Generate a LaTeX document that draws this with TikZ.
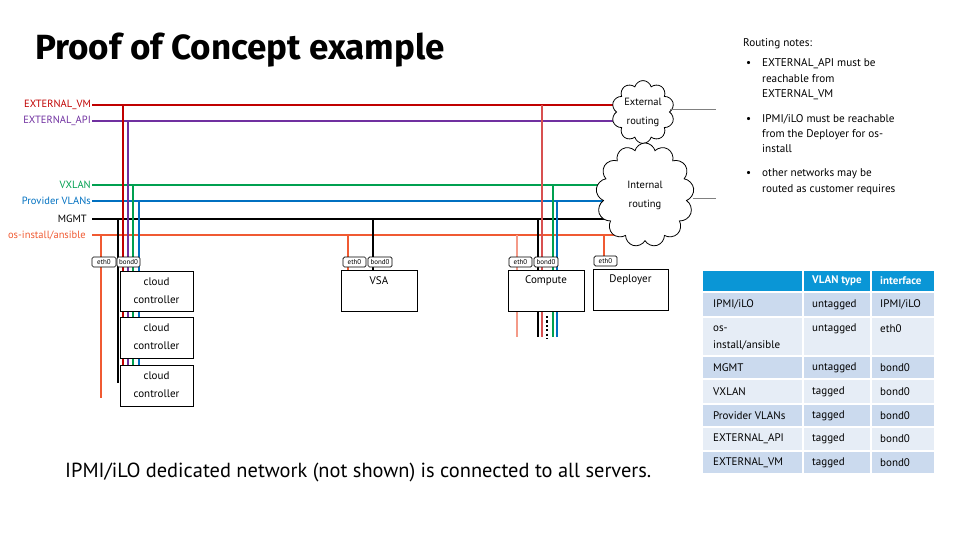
\documentclass[tikz,border=0pt]{standalone}
\usepackage{fontspec}
\setmainfont{PT Sans}
\newfontfamily\titlefont{Fira Sans}
\usetikzlibrary{shapes.symbols}

\definecolor{cExtVM}{HTML}{C00000}
\definecolor{cExtAPI}{HTML}{7030A0}
\definecolor{cVXLAN}{HTML}{00A050}
\definecolor{cProv}{HTML}{0070C0}
\definecolor{cOS}{HTML}{F05A32}
\definecolor{cOSlight}{HTML}{F49A88}
\definecolor{cRedLight}{HTML}{D85050}
\definecolor{cHead}{HTML}{0A96D6}
\definecolor{cRowDark}{HTML}{CBDAEE}
\definecolor{cRowLight}{HTML}{E6EDF6}
\definecolor{cUplink}{HTML}{808080}

\newcommand{\fs}[1]{\fontsize{#1}{#1}\selectfont}

\tikzset{
  netlabel/.style={anchor=east, inner sep=0pt, font=\fs{10.5}},
  bus/.style={line width=1.15pt},
  drop/.style={line width=1.15pt},
  nictag/.style={draw, rounded corners=1.5pt, fill=white, inner sep=0pt,
    minimum height=10pt, font=\fs{7}, line width=0.7pt},
  srvbox/.style={draw, fill=white, inner sep=0pt, line width=1pt,
    minimum width=76pt, minimum height=41pt},
  srvname/.style={anchor=center, inner sep=0pt, font=\fs{11}},
  routecloud/.style={cloud, draw, fill=white, line width=0.8pt, aspect=1,
    inner sep=0pt, align=center},
  noteline/.style={anchor=base west, inner sep=0pt, font=\fs{11.2}},
  celltext/.style={anchor=west, inner sep=0pt, font=\fs{11}},
  headtext/.style={anchor=west, inner sep=0pt, font=\bfseries\fs{11}, text=white},
}

\begin{document}
\begin{tikzpicture}[x=1pt, y=-1pt]
\useasboundingbox (0,0) rectangle (960,540);

% ---------- title ----------
\node[anchor=base west, inner sep=0pt, font=\titlefont\bfseries\fs{35}] (title) at (35,60)
  {Proof of Concept example};

% ---------- network labels and bus start points ----------
\node[netlabel, text=cExtVM]  (lExtVM)  at (91,105) {EXTERNAL\_VM};
\node[netlabel, text=cExtAPI] (lExtAPI) at (91,121) {EXTERNAL\_API};
\node[netlabel, text=cVXLAN]  (lVXLAN)  at (91,185) {VXLAN};
\node[netlabel, text=cProv]   (lProv)   at (91,201) {Provider VLANs};
\node[netlabel]               (lMGMT)   at (87,219) {MGMT};
\node[netlabel, text=cOS]     (lOS)     at (86,235) {os-install/ansible};

\coordinate (bExtVM)  at (92,105);
\coordinate (bExtAPI) at (92,121);
\coordinate (bVXLAN)  at (92,185);
\coordinate (bProv)   at (92,201);
\coordinate (bMGMT)   at (92,219);
\coordinate (bOS)     at (92,235);

% ---------- routing clouds (positions) ----------
\coordinate (extC) at (643,112);
\coordinate (intC) at (645,195);

% ---------- buses ----------
\draw[bus, cExtVM]  (bExtVM)  -- (bExtVM -| extC);
\draw[bus, cExtAPI] (bExtAPI) -- (bExtAPI -| extC);
\draw[bus, cVXLAN]  (bVXLAN)  -- (bVXLAN -| intC);
\draw[bus, cProv]   (bProv)   -- (bProv -| intC);
\draw[bus, black]   (bMGMT)   -- (bMGMT -| intC);
\draw[bus, cOS]     (bOS)     -- (bOS -| intC);

% ---------- cloud controllers: drops ----------
\coordinate (ccOS)   at (101,398);
\coordinate (ccMG)   at (118,383);
\coordinate (ccVM)   at (123,366);
\coordinate (ccAPI)  at (128,366);
\coordinate (ccVX)   at (133,366);
\coordinate (ccPV)   at (139,366);
\draw[drop, cOS]     (ccOS |- bOS)      -- (ccOS);
\draw[drop, black]   (ccMG |- bMGMT)    -- (ccMG);
\draw[drop, cExtVM]  (ccVM |- bExtVM)   -- (ccVM);
\draw[drop, cExtAPI] (ccAPI |- bExtAPI) -- (ccAPI);
\draw[drop, cVXLAN]  (ccVX |- bVXLAN)   -- (ccVX);
\draw[drop, cProv]   (ccPV |- bProv)    -- (ccPV);

\node[nictag, minimum width=24pt] (ccEth)  at (104,262) {eth0};
\node[nictag, minimum width=23pt] (ccBond) at (128.5,262) {bond0};

\node[srvbox, minimum width=73pt, minimum height=40pt] (cc1) at (156.5,291) {};
\node[srvbox, minimum width=73pt, minimum height=41pt] (cc2) at (156.5,337.5) {};
\node[srvbox, minimum width=73pt, minimum height=41pt] (cc3) at (156.5,385.5) {};
\foreach \b in {cc1,cc2,cc3}{
  \node[srvname] at ([yshift=-11pt]\b.north) {cloud};
  \node[srvname] at ([yshift=-29pt]\b.north) {controller};
}

% ---------- VSA ----------
\coordinate (vsaOS) at (348,270);
\coordinate (vsaMG) at (373,270);
\draw[drop, cOS]   (vsaOS |- bOS)   -- (vsaOS);
\draw[drop, black] (vsaMG |- bMGMT) -- (vsaMG);
\node[nictag, minimum width=23pt] (vsaEth)  at (354.5,262) {eth0};
\node[nictag, minimum width=24pt] (vsaBond) at (380,262) {bond0};
\node[srvbox] (vsa) at (379,290.5) {};
\node[srvname] at ([yshift=-11pt]vsa.north) {VSA};

% ---------- Compute ----------
\coordinate (cmOS) at (517,337);
\coordinate (cmMG) at (538,337);
\coordinate (cmVM) at (542,337);
\coordinate (cmVX) at (553,337);
\coordinate (cmPV) at (557,337);
\coordinate (cmDotTop) at (547,316);
\coordinate (cmDotEnd) at (547,339);
\draw[drop, cOSlight]  (cmOS |- bOS)     -- (cmOS);
\draw[drop, black]     (cmMG |- bMGMT)   -- (cmMG);
\draw[line width=1.5pt, cRedLight] (cmVM |- bExtVM) -- (cmVM);
\draw[drop, cVXLAN]    (cmVX |- bVXLAN)  -- (cmVX);
\draw[drop, cProv]     (cmPV |- bProv)   -- (cmPV);
\draw[line width=2.2pt, dash pattern=on 2.2pt off 2.2pt] (cmDotTop) -- (cmDotEnd);
\node[nictag, minimum width=23pt] (cmEth)  at (520.5,262) {eth0};
\node[nictag, minimum width=24pt] (cmBond) at (546,262) {bond0};
\node[srvbox] (cm) at (546,290.5) {};
\node[srvname] at ([yshift=-11pt]cm.north) {Compute};

% ---------- Deployer ----------
\coordinate (dpOS) at (604,256);
\draw[drop, cOS] (dpOS |- bOS) -- (dpOS);
\node[nictag, minimum width=23pt] (dpEth) at (605.5,261) {eth0};
\node[srvbox, minimum width=75pt] (dp) at (630.5,289.5) {};
\node[srvname] at ([yshift=-11pt]dp.north) {Deployer};

% ---------- routing clouds ----------
\node[routecloud, cloud puffs=10, minimum width=60pt, minimum height=48pt,
      font=\fontsize{10.5}{19}\selectfont] (extR) at (extC) {External\\routing};
\node[routecloud, cloud puffs=13, minimum width=98pt, minimum height=104pt,
      font=\fontsize{10.5}{19}\selectfont] (intR) at (intC) {Internal\\routing};
\coordinate (extUp) at (716,110);
\coordinate (intUp) at (716,198);
\draw[line width=1pt, cUplink] (extUp -| extR.east) -- (extUp);
\draw[line width=1pt, cUplink] (intUp -| intR.east) -- (intUp);

% ---------- routing notes ----------
\node[noteline] (rnHead) at (743,47) {Routing notes:};
\node[noteline] (rnB1) at (746,67) {\textbullet};
\node[noteline] (rnB2) at (746,123) {\textbullet};
\node[noteline] (rnB3) at (746,177) {\textbullet};
\node[noteline] (rn1a) at (762,67)  {EXTERNAL\_API must be};
\node[noteline] (rn1b) at (762,83)  {reachable from};
\node[noteline] (rn1c) at (762,98)  {EXTERNAL\_VM};
\node[noteline] (rn2a) at (762,123) {IPMI/iLO must be reachable};
\node[noteline] (rn2b) at (762,138) {from the Deployer for os-};
\node[noteline] (rn2c) at (762,153) {install};
\node[noteline] (rn3a) at (762,177) {other networks may be};
\node[noteline] (rn3b) at (762,192) {routed as customer requires};

% ---------- VLAN table ----------
% header
\fill[cHead] (703,271) rectangle (801.5,291);
\fill[cHead] (803.5,271) rectangle (869.5,291);
\fill[cHead] (871.5,271) rectangle (934,291);
\node[headtext] (thType) at (812,281) {VLAN type};
\node[headtext] (thIf)   at (880,281) {interface};
% body rows: top, bottom, fill colour
\foreach \t/\b/\c in {293/316/cRowDark, 318/355/cRowLight, 357/378/cRowDark,
                      380/403/cRowLight, 405/426/cRowDark, 428/450/cRowLight,
                      452/473/cRowDark}{
  \fill[\c] (703,\t) rectangle (801.5,\b);
  \fill[\c] (803.5,\t) rectangle (869.5,\b);
  \fill[\c] (871.5,\t) rectangle (934,\b);
}
\node[celltext] (r1a) at (713,304.5) {IPMI/iLO};
\node[celltext] (r1b) at (812,304.5) {untagged};
\node[celltext] (r1c) at (880,304.5) {IPMI/iLO};
\node[celltext] (r2a) at (713,329) {os-};
\node[celltext] (r2a2) at (713,345) {install/ansible};
\node[celltext] (r2b) at (812,329) {untagged};
\node[celltext] (r2c) at (880,329) {eth0};
\node[celltext] (r3a) at (713,367.5) {MGMT};
\node[celltext] (r3b) at (812,367.5) {untagged};
\node[celltext] (r3c) at (880,367.5) {bond0};
\node[celltext] (r4a) at (713,391.5) {VXLAN};
\node[celltext] (r4b) at (812,391.5) {tagged};
\node[celltext] (r4c) at (880,391.5) {bond0};
\node[celltext] (r5a) at (713,415.5) {Provider VLANs};
\node[celltext] (r5b) at (812,415.5) {tagged};
\node[celltext] (r5c) at (880,415.5) {bond0};
\node[celltext] (r6a) at (713,439) {EXTERNAL\_API};
\node[celltext] (r6b) at (812,439) {tagged};
\node[celltext] (r6c) at (880,439) {bond0};
\node[celltext] (r7a) at (713,463) {EXTERNAL\_VM};
\node[celltext] (r7b) at (812,463) {tagged};
\node[celltext] (r7c) at (880,463) {bond0};

% ---------- footnote ----------
\node[anchor=west, inner sep=0pt, font=\fs{20.4}] (foot) at (65,472)
  {IPMI/iLO dedicated network (not shown) is connected to all servers.};
\end{tikzpicture}
\end{document}
